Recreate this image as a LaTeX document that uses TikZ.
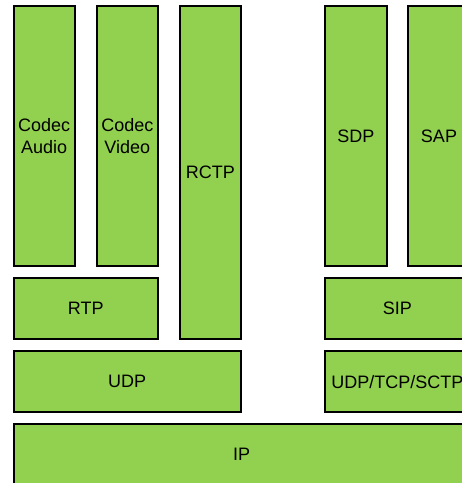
\documentclass[tikz,border=0pt]{standalone}
\usepackage{fontspec}
\setmainfont{Liberation Sans}
\definecolor{layergreen}{HTML}{92D050}
\begin{document}
\begin{tikzpicture}[x=1pt,y=-1pt,
  layer/.style={draw=black, fill=layergreen, line width=1.9pt, inner sep=0pt,
    outer sep=0pt, align=center, font=\fontsize{18}{22}\selectfont}]
\useasboundingbox (0,0) rectangle (462,483);
\clip (0,0) rectangle (462,483);
% application column (media)
\node[layer, minimum width=61pt, minimum height=259.4pt] (ca) at (44.2,136) {Codec\\Audio};
\node[layer, minimum width=60.7pt, minimum height=259.4pt] (cv) at (127.35,136) {Codec\\Video};
\node[layer, minimum width=60.7pt, minimum height=332.7pt] (rctp) at (210.35,172.65) {RCTP};
\node[layer, minimum width=144pt, minimum height=60.7pt] (rtp) at (85.7,308.65) {RTP};
\node[layer, minimum width=227pt, minimum height=61.3pt] (udp) at (127.2,381.65) {UDP};
% signalling column
\node[layer, minimum width=61.7pt, minimum height=259.4pt] (sdp) at (355.85,136) {SDP};
\node[layer, minimum width=61.4pt, minimum height=259.4pt] (sap) at (439,136) {SAP};
\node[layer, minimum width=144.7pt, minimum height=60.7pt] (sip) at (397.35,308.65) {SIP};
\node[layer, minimum width=144.7pt, minimum height=61.3pt] (utcp) at (397.35,381.65) {UDP/TCP/SCTP};
% network layer, running past the lower edge
\node[layer, minimum width=456pt, minimum height=70pt] (ip) at (241.7,459.3) {\raisebox{4.7pt}[\height][\depth]{IP}};
\end{tikzpicture}
\end{document}
